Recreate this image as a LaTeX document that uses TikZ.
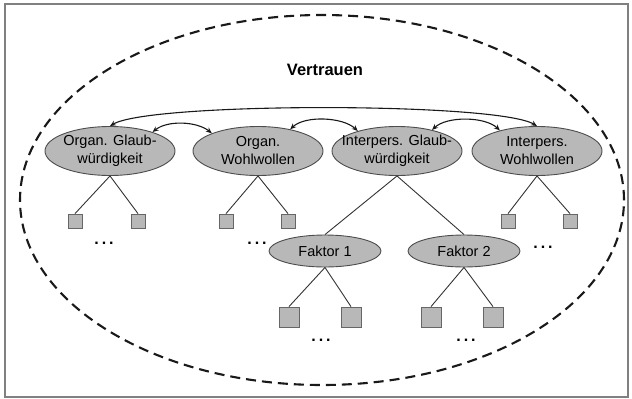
\documentclass[tikz,border=0pt]{standalone}
\usepackage{fontspec}
\setmainfont{Liberation Sans}
\usetikzlibrary{shapes.geometric,arrows.meta}
\begin{document}
\begin{tikzpicture}[x=1pt,y=-1pt,
  oval/.style={ellipse,draw=black!70,fill=black!28,line width=0.9pt,
    minimum width=130pt,minimum height=49pt,inner sep=0pt},
  lbl/.style={align=center,inner sep=0pt,font=\fontsize{14.5}{18}\selectfont},
  foval/.style={ellipse,draw=black!70,fill=black!28,line width=0.9pt,
    minimum width=112pt,minimum height=32pt,inner sep=0pt,
    font=\fontsize{14.5}{18}\selectfont},
  sq/.style={rectangle,draw=black!60,fill=black!28,line width=0.8pt,
    minimum width=14pt,minimum height=14pt,inner sep=0pt},
  bsq/.style={sq,minimum width=20pt,minimum height=20pt},
  dots/.style={inner sep=0pt,font=\fontsize{16}{16}\selectfont\bfseries},
  tree/.style={draw=black!80,line width=0.9pt},
  rel/.style={draw=black!90,line width=1.1pt,
    {Stealth[length=6pt,width=5pt]}-{Stealth[length=6pt,width=5pt]}},
]
\useasboundingbox (0,0) rectangle (632,399);
\node[draw=black!50,line width=1.2pt,minimum width=623pt,minimum height=393pt,inner sep=0pt] (frame) at (316.5,200.5) {};
\node[ellipse,draw=black!90,dash pattern=on 10pt off 6pt,line width=2.1pt,
  minimum width=604pt,minimum height=370pt,inner sep=0pt] (outer) at (322,200) {};
\node[font=\fontsize{16.5}{18}\selectfont\bfseries,inner sep=0pt] (title) at (325,70) {Vertrauen};

% top ellipses
\node[oval,label={[lbl]center:{Organ. Glaub-\\würdigkeit}}] (e1) at (110,151) {};
\node[oval,label={[lbl]center:{Organ.\\Wohlwollen}}] (e2) at (258,151) {};
\node[oval,label={[lbl]center:{Interpers. Glaub-\\würdigkeit}}] (e3) at (397,151) {};
\node[oval,label={[lbl]center:{Interpers.\\Wohlwollen}}] (e4) at (537,151) {};

% relations
\draw[rel] (e1.north) .. controls +(40,-24) and +(-40,-24) .. (e4.north);
\draw[rel] (e1.24) .. controls +(15,-12) and +(-15,-12) .. (e2.159);
\draw[rel] (e2.34) .. controls +(15,-14) and +(-15,-14) .. (e3.153);
\draw[rel] (e3.31) .. controls +(15,-14) and +(-15,-14) .. (e4.151);

% factor ellipses
\node[foval] (f1) at (325,251) {Faktor 1};
\node[foval] (f2) at (464,251) {Faktor 2};

% small squares
\node[sq] (s1) at (75,221) {};
\node[sq] (s2) at (138,221) {};
\node[sq] (s3) at (226,221) {};
\node[sq] (s4) at (288,221) {};
\node[sq] (s5) at (508,221) {};
\node[sq] (s6) at (570,221) {};
% big squares
\node[bsq] (b1) at (289,317) {};
\node[bsq] (b2) at (351,317) {};
\node[bsq] (b3) at (431,317) {};
\node[bsq] (b4) at (493,317) {};

% tree lines
\draw[tree] (e1.south) -- (s1.north);
\draw[tree] (e1.south) -- (s2.north);
\draw[tree] (e2.south) -- (s3.north);
\draw[tree] (e2.south) -- (s4.north);
\draw[tree] (e4.south) -- (s5.north);
\draw[tree] (e4.south) -- (s6.north);
\draw[tree] (e3.south) -- (f1.north);
\draw[tree] (e3.south) -- (f2.north);
\draw[tree] (f1.south) -- (b1.north);
\draw[tree] (f1.south) -- (b2.north);
\draw[tree] (f2.south) -- (b3.north);
\draw[tree] (f2.south) -- (b4.north);

% dots
\node[dots] (d1) at (104,243) {.\hspace{3pt}.\hspace{3pt}.};
\node[dots] (d2) at (257,243) {.\hspace{3pt}.\hspace{3pt}.};
\node[dots] (d3) at (543,247) {.\hspace{3pt}.\hspace{3pt}.};
\node[dots] (d4) at (321,340) {.\hspace{3pt}.\hspace{3pt}.};
\node[dots] (d5) at (466,340) {.\hspace{3pt}.\hspace{3pt}.};
\end{tikzpicture}
\end{document}
